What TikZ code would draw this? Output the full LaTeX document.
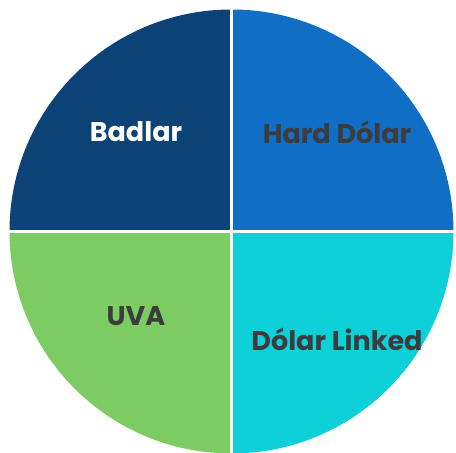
\documentclass[tikz,border=0pt]{standalone}
\usepackage{fontspec}
\setmainfont{Poppins}[BoldFont={Poppins Bold}]
\usetikzlibrary{positioning}

\definecolor{badlarblue}{HTML}{0B4376}
\definecolor{hardblue}{HTML}{106EC4}
\definecolor{uvagreen}{HTML}{7DCB63}
\definecolor{linkedcyan}{HTML}{0DD0D9}
\definecolor{labelgray}{HTML}{3C3C3E}

\begin{document}
\begin{tikzpicture}[x=1pt,y=1pt,
  label text/.style={font=\bfseries\fontsize{27}{30}\selectfont,text=labelgray,anchor=center,inner sep=0pt},
  split line/.style={draw=white,line width=3.5pt}]
\useasboundingbox (0,0) rectangle (456,453);
\coordinate (C) at (231.5,221.5);
\fill[badlarblue] (C) -- ++(-222,0) arc[start angle=180,end angle=90,radius=222] -- cycle;
\fill[hardblue] (C) -- ++(0,222) arc[start angle=90,end angle=0,radius=222] -- cycle;
\fill[uvagreen] (C) -- ++(-222,0) arc[start angle=180,end angle=270,radius=222] -- cycle;
\fill[linkedcyan] (C) -- ++(0,-222) arc[start angle=270,end angle=360,radius=222] -- cycle;
\draw[split line] (231.5,0) -- (231.5,453);
\draw[split line] (0,221.5) -- (456,221.5);

\node[label text,text=white] (badlar) at (136,321) {Badlar};
\node[label text] (hard) at (337,321) {Hard Dólar};
\node[label text] (uva) at (136,137) {UVA};
\node[label text] (linked) at (337,114) {Dólar Linked};
\end{tikzpicture}
\end{document}
